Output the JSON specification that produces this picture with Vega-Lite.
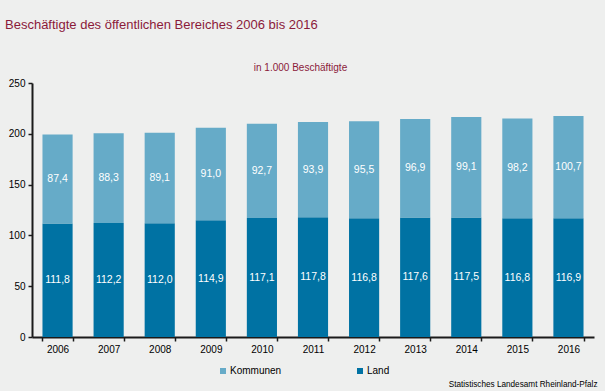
{
  "$schema": "https://vega.github.io/schema/vega-lite/v6.json",
  "width": 562,
  "height": 254,
  "autosize": {"type": "none"},
  "padding": {"left": 32, "top": 83, "right": 11, "bottom": 54},
  "background": "#EEEFEE",
  "config": {
    "font": "Liberation Sans",
    "view": {"stroke": null},
    "locale": {"number": {"decimal": ",", "thousands": ".", "grouping": [3], "currency": ["", " €"]}}
  },
  "title": {
    "text": "Beschäftigte des öffentlichen Bereiches 2006 bis 2016",
    "anchor": "start",
    "frame": "group",
    "dx": -27,
    "offset": 30,
    "fontSize": 13,
    "fontWeight": "normal",
    "color": "#8B1A3A"
  },
  "data": {
    "values": [
      {"jahr": "2006", "gruppe": "Land", "wert": 111.8},
      {"jahr": "2007", "gruppe": "Land", "wert": 112.2},
      {"jahr": "2008", "gruppe": "Land", "wert": 112.0},
      {"jahr": "2009", "gruppe": "Land", "wert": 114.9},
      {"jahr": "2010", "gruppe": "Land", "wert": 117.1},
      {"jahr": "2011", "gruppe": "Land", "wert": 117.8},
      {"jahr": "2012", "gruppe": "Land", "wert": 116.8},
      {"jahr": "2013", "gruppe": "Land", "wert": 117.6},
      {"jahr": "2014", "gruppe": "Land", "wert": 117.5},
      {"jahr": "2015", "gruppe": "Land", "wert": 116.8},
      {"jahr": "2016", "gruppe": "Land", "wert": 116.9},
      {"jahr": "2006", "gruppe": "Kommunen", "wert": 87.4},
      {"jahr": "2007", "gruppe": "Kommunen", "wert": 88.3},
      {"jahr": "2008", "gruppe": "Kommunen", "wert": 89.1},
      {"jahr": "2009", "gruppe": "Kommunen", "wert": 91.0},
      {"jahr": "2010", "gruppe": "Kommunen", "wert": 92.7},
      {"jahr": "2011", "gruppe": "Kommunen", "wert": 93.9},
      {"jahr": "2012", "gruppe": "Kommunen", "wert": 95.5},
      {"jahr": "2013", "gruppe": "Kommunen", "wert": 96.9},
      {"jahr": "2014", "gruppe": "Kommunen", "wert": 99.1},
      {"jahr": "2015", "gruppe": "Kommunen", "wert": 98.2},
      {"jahr": "2016", "gruppe": "Kommunen", "wert": 100.7}
    ]
  },
  "transform": [
    {"stack": "wert", "groupby": ["jahr"], "sort": [{"field": "gruppe", "order": "descending"}], "as": ["y0", "y1"]},
    {"calculate": "(datum.y0 + datum.y1) / 2", "as": "ymid"}
  ],
  "encoding": {
    "x": {
      "field": "jahr",
      "type": "ordinal",
      "scale": {"paddingInner": 0.41, "paddingOuter": 0.205},
      "axis": {
        "title": "Statistisches Landesamt Rheinland-Pfalz",
        "titleFontSize": 8.2,
        "titleFontWeight": "normal",
        "titleColor": "#000000",
        "titleAnchor": "end",
        "titleAlign": "right",
        "titleBaseline": "alphabetic",
        "titleX": 565,
        "titleY": 49,
        "labelAngle": 0,
        "labelFontSize": 10,
        "labelColor": "#000000",
        "labelPadding": 3,
        "tickBand": "extent",
        "tickSize": 4,
        "tickColor": "#1A1A1A",
        "tickWidth": 1.5,
        "domainColor": "#1A1A1A",
        "domainWidth": 2
      }
    }
  },
  "layer": [
    {
      "mark": {"type": "bar"},
      "encoding": {
        "y": {
          "field": "y0",
          "type": "quantitative",
          "scale": {"domain": [0, 250], "nice": false},
          "axis": {
            "values": [0, 50, 100, 150, 200, 250],
            "grid": false,
            "title": "in 1.000 Beschäftigte",
            "titleAngle": 0,
            "titleAlign": "center",
            "titleBaseline": "alphabetic",
            "titleX": 268,
            "titleY": -13,
            "titleFontSize": 10,
            "titleFontWeight": "normal",
            "titleColor": "#8B1A3A",
            "labelFontSize": 10,
            "labelColor": "#000000",
            "labelPadding": 3,
            "tickSize": 4,
            "tickColor": "#1A1A1A",
            "tickWidth": 1.5,
            "domainColor": "#1A1A1A",
            "domainWidth": 2
          }
        },
        "y2": {"field": "y1"},
        "color": {
          "field": "gruppe",
          "type": "nominal",
          "scale": {"domain": ["Kommunen", "Land"], "range": ["#66ABC8", "#0072A3"]},
          "legend": {
            "title": null,
            "orient": "none",
            "direction": "horizontal",
            "legendX": 186,
            "legendY": 283,
            "symbolType": "square",
            "symbolSize": 36,
            "symbolStrokeWidth": 0,
            "labelFontSize": 10,
            "labelColor": "#000000",
            "labelOffset": 2,
            "columnPadding": 73
          }
        }
      }
    },
    {
      "mark": {"type": "text", "color": "#FFFFFF", "fontSize": 10.5, "baseline": "middle", "align": "center"},
      "encoding": {
        "y": {"field": "ymid", "type": "quantitative"},
        "text": {"field": "wert", "type": "quantitative", "format": ".1f"}
      }
    }
  ]
}
